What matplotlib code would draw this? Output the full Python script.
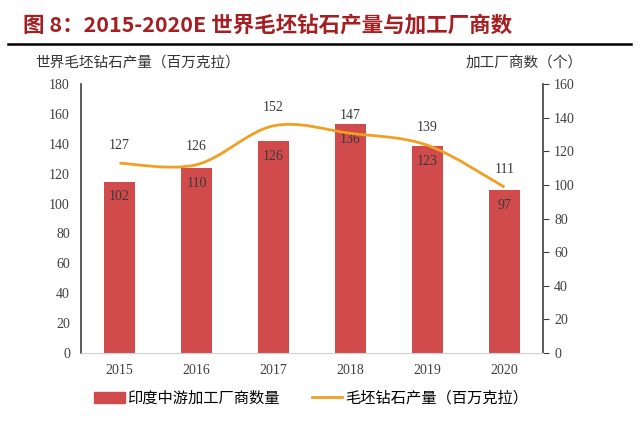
import numpy as np
import matplotlib.pyplot as plt
from matplotlib.path import Path
from matplotlib.patches import PathPatch, Rectangle
from matplotlib.lines import Line2D

plt.rcParams['font.family'] = ['Liberation Serif', 'Noto Sans CJK SC']

years = ['2015', '2016', '2017', '2018', '2019', '2020']
plants = [102, 110, 126, 136, 123, 97]          # right axis, bars
production = [127, 126, 152, 147, 139, 111]     # left axis, line

BAR_COLOR = '#D24B4C'
LINE_COLOR = '#F0A023'
CJK = ['Noto Sans CJK SC', 'DejaVu Sans']


def smooth_path(xs, ys):
    # Catmull-Rom style bezier, similar to Excel's smoothed line
    pts = np.column_stack([xs, ys]).astype(float)
    n = len(pts)
    verts = [pts[0]]
    codes = [Path.MOVETO]
    for i in range(n - 1):
        p0 = pts[i - 1] if i > 0 else pts[i]
        p1 = pts[i]
        p2 = pts[i + 1]
        p3 = pts[i + 2] if i + 2 < n else pts[i + 1]
        c1 = p1 + (p2 - p0) / 6
        c2 = p2 - (p3 - p1) / 6
        verts += [c1, c2, p2]
        codes += [Path.CURVE4] * 3
    return Path(verts, codes)


fig = plt.figure(figsize=(6.4, 4.22), dpi=100)
ax1 = fig.add_axes([81 / 640, 1 - 353 / 422, 462 / 640, 269 / 422])
ax2 = ax1.twinx()
ax1.set_zorder(ax2.get_zorder() + 1)
ax1.patch.set_visible(False)

x = np.arange(len(years))

# bars on right axis
ax2.bar(x, plants, width=0.39, color=BAR_COLOR, zorder=2)
for xi, v in zip(x, plants):
    ax2.annotate(str(v), (xi, v), xytext=(0, -11), textcoords='offset points',
                 ha='center', va='center', fontsize=10, color='#3a3a3a')
ax2.set_ylim(0, 160)
ax2.set_yticks(range(0, 161, 20))

# smoothed line on left axis
patch = PathPatch(smooth_path(x, production), facecolor='none',
                  edgecolor=LINE_COLOR, lw=2, zorder=3)
ax1.add_patch(patch)
for xi, v in zip(x, production):
    ax1.annotate(str(v), (xi, v), xytext=(0, 13), textcoords='offset points',
                 ha='center', va='center', fontsize=10, color='#3a3a3a')
ax1.set_ylim(0, 180)
ax1.set_yticks(range(0, 181, 20))
ax1.set_xlim(-0.5, len(years) - 0.5)
ax1.set_xticks(x)
ax1.set_xticklabels(years)

for ax in (ax1, ax2):
    for s in ax.spines.values():
        s.set_visible(False)
    ax.tick_params(labelsize=10, colors='#404040')

ax1.spines['left'].set_visible(True)
ax1.spines['left'].set_color('#404040')
ax1.spines['left'].set_linewidth(1.2)
ax1.spines['bottom'].set_visible(True)
ax1.spines['bottom'].set_color('#d0d0d0')
ax1.tick_params(axis='y', length=0, pad=8)
ax1.tick_params(axis='x', length=0, pad=8)
ax2.spines['right'].set_visible(True)
ax2.spines['right'].set_color('#404040')
ax2.spines['right'].set_linewidth(1.2)
ax2.tick_params(axis='y', direction='out', length=4, color='#404040', pad=4)

# title and rule
fig.text(23 / 640, 1 - 25 / 422, '图 8：2015-2020E 世界毛坯钻石产量与加工厂商数',
         family=['Noto Sans CJK SC', 'DejaVu Sans'], fontsize=15.5, fontweight='bold',
         color='#A51E22', va='center', ha='left')
fig.add_artist(Line2D([8 / 640, 631 / 640], [1 - 44 / 422, 1 - 44 / 422],
                      color='black', lw=1.8))

fig.text(35 / 640, 1 - 63 / 422, '世界毛坯钻石产量（百万克拉）', family=CJK,
         fontsize=10.5, color='#333333', va='center', ha='left')
fig.text(583 / 640, 1 - 63 / 422, '加工厂商数（个）', family=CJK,
         fontsize=10.5, color='#333333', va='center', ha='right')

# legend
handles = [Rectangle((0, 0), 1, 1, color=BAR_COLOR),
           Line2D([0], [0], color=LINE_COLOR, lw=2)]
fig.legend(handles, ['印度中游加工厂商数量', '毛坯钻石产量（百万克拉）'],
           loc='center', bbox_to_anchor=(311 / 640, 1 - 398 / 422), ncol=2,
           frameon=False, prop={'family': CJK, 'size': 11},
           handlelength=2.0, handleheight=0.7, columnspacing=2.1, handletextpad=0.15)

fig.savefig('out.png', dpi=100)
